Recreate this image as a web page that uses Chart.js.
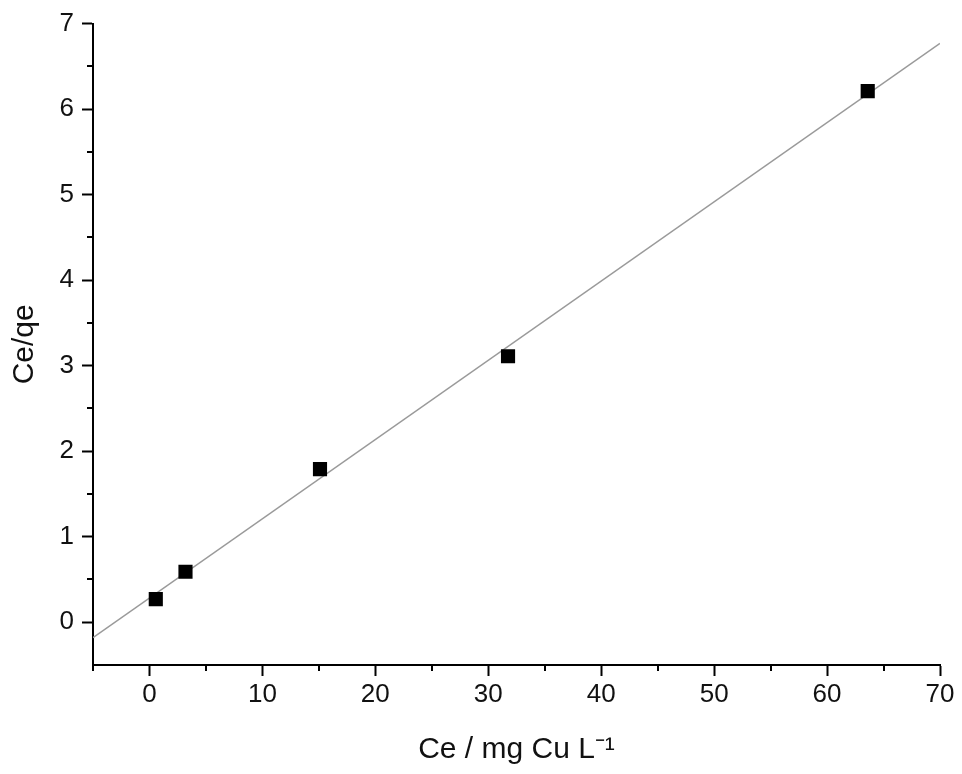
<!DOCTYPE html>
<html>
<head>
<meta charset="utf-8">
<script src="https://cdn.jsdelivr.net/npm/chart.js@4"></script>
<style>
  html, body { margin: 0; padding: 0; background: #fff; }
  #wrap { width: 962px; height: 774px; }
</style>
</head>
<body>
<div id="wrap"><canvas id="myChart" width="962" height="774"></canvas></div>
<script>
// measured points
const ceValues = [0.56, 3.19, 15.1, 31.75, 63.6];
const ceQeValues = [0.27, 0.59, 1.79, 3.11, 6.21];

// fitted line, read at the two ends of the x range
const fitX = [-5, 70];
const fitY = [-0.18, 6.77];

// tick labels
const xTicks = [0, 10, 20, 30, 40, 50, 60, 70];
const yTicks = [0, 1, 2, 3, 4, 5, 6, 7];
const xMinor = [-5, 5, 15, 25, 35, 45, 55, 65];
const yMinor = [0.5, 1.5, 2.5, 3.5, 4.5, 5.5, 6.5];

document.addEventListener("DOMContentLoaded", myLoadEvent);

function myLoadEvent() {
    const ctx = document.getElementById('myChart');
    const fontFamily = '"Liberation Sans", Arial, sans-serif';

    // small ticks between the labelled ones
    const minorTicks = {
        id: 'minorTicks',
        afterDraw(chart) {
            const c = chart.ctx;
            const xs = chart.scales.x;
            const ys = chart.scales.y;
            c.save();
            c.strokeStyle = '#000';
            c.lineWidth = 2;
            c.beginPath();
            xMinor.forEach(v => {
                const px = Math.round(xs.getPixelForValue(v));
                c.moveTo(px, xs.top);
                c.lineTo(px, xs.top + 6);
            });
            yMinor.forEach(v => {
                const py = Math.round(ys.getPixelForValue(v));
                c.moveTo(ys.right, py);
                c.lineTo(ys.right - 6, py);
            });
            c.stroke();
            c.restore();
        }
    };

    new Chart(ctx, {
        type: 'scatter',
        data: {
            datasets: [
                {
                    label: 'Ce/qe',
                    data: ceValues.map((x, i) => ({x: x, y: ceQeValues[i]})),
                    pointStyle: 'rect',
                    pointRadius: 10,
                    pointHoverRadius: 10,
                    backgroundColor: '#000',
                    borderColor: '#000',
                    borderWidth: 0,
                    order: 0
                },
                {
                    label: 'fit',
                    type: 'line',
                    data: fitX.map((x, i) => ({x: x, y: fitY[i]})),
                    borderColor: '#9a9a9a',
                    borderWidth: 1.5,
                    pointRadius: 0,
                    fill: false,
                    order: 1
                }
            ]
        },
        options: {
            responsive: false,
            animation: false,
            layout: {
                padding: { top: 20, right: 22, bottom: 0, left: 0 }
            },
            plugins: {
                legend: { display: false },
                tooltip: { enabled: false }
            },
            scales: {
                x: {
                    type: 'linear',
                    min: -5,
                    max: 70,
                    afterBuildTicks: s => { s.ticks = xTicks.map(v => ({value: v})); },
                    afterFit: s => { s.height = 109; },
                    border: { display: true, color: '#000', width: 2 },
                    grid: {
                        drawOnChartArea: false,
                        drawTicks: true,
                        tickLength: 11,
                        tickColor: '#000',
                        tickWidth: 2
                    },
                    ticks: {
                        color: '#111',
                        padding: 3,
                        maxRotation: 0,
                        font: { family: fontFamily, size: 26 }
                    },
                    title: {
                        display: true,
                        text: 'Ce / mg Cu L\u207B\u00B9',
                        color: '#111',
                        padding: { top: 0, bottom: 6 },
                        font: { family: fontFamily, size: 30 }
                    }
                },
                y: {
                    type: 'linear',
                    min: -0.5,
                    max: 7,
                    afterBuildTicks: s => { s.ticks = yTicks.map(v => ({value: v})); },
                    afterFit: s => { s.width = 93; },
                    border: { display: true, color: '#000', width: 2 },
                    grid: {
                        drawOnChartArea: false,
                        drawTicks: true,
                        tickLength: 11,
                        tickColor: '#000',
                        tickWidth: 2
                    },
                    ticks: {
                        color: '#111',
                        padding: 8,
                        font: { family: fontFamily, size: 26 }
                    },
                    title: {
                        display: true,
                        text: 'Ce/qe',
                        color: '#111',
                        padding: { top: 7, bottom: 0 },
                        font: { family: fontFamily, size: 30 }
                    }
                }
            }
        },
        plugins: [minorTicks]
    });
}
</script>
</body>
</html>
